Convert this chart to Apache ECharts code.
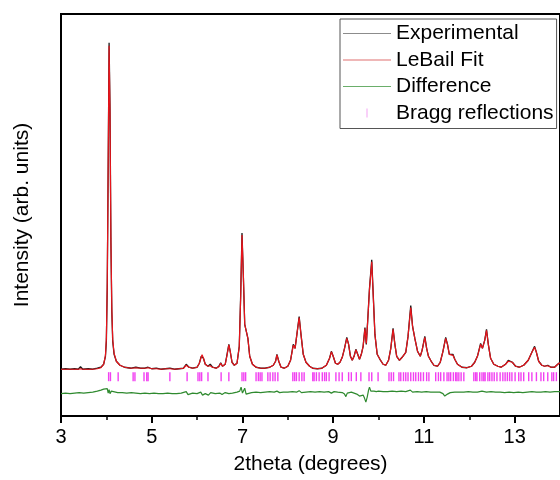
<!DOCTYPE html>
<html>
<head>
<meta charset="utf-8">
<script src="https://cdn.jsdelivr.net/npm/echarts@6/dist/echarts.min.js"></script>
<style>
  html, body { margin: 0; padding: 0; background: #fff; }
  #chart { width: 560px; height: 480px; }
</style>
</head>
<body>
<div id="chart"></div>
<script>
// 2theta grid shared by the experimental pattern and the LeBail fit
const twoTheta = [
  3.00, 3.10, 3.20, 3.30, 3.38, 3.43, 3.48, 3.60, 3.70, 3.80,
  3.88, 3.94, 3.98, 4.00, 4.02, 4.04, 4.06, 4.08, 4.10, 4.12,
  4.14, 4.17, 4.22, 4.30, 4.40, 4.55, 4.65, 4.75, 4.85, 4.92,
  5.00, 5.10, 5.20, 5.30, 5.40, 5.50, 5.60, 5.70, 5.76, 5.82,
  5.90, 6.00, 6.05, 6.09, 6.11, 6.14, 6.18, 6.24, 6.29, 6.34,
  6.42, 6.48, 6.52, 6.56, 6.62, 6.66, 6.70, 6.73, 6.77, 6.82,
  6.88, 6.93, 6.96, 6.99, 7.02, 7.05, 7.09, 7.12, 7.16, 7.22,
  7.30, 7.40, 7.50, 7.60, 7.68, 7.73, 7.76, 7.80, 7.85, 7.92,
  8.00, 8.06, 8.12, 8.16, 8.20, 8.25, 8.29, 8.34, 8.40, 8.48,
  8.55, 8.65, 8.75, 8.85, 8.92, 8.96, 9.00, 9.05, 9.10, 9.15,
  9.20, 9.25, 9.30, 9.34, 9.38, 9.42, 9.46, 9.50, 9.54, 9.58,
  9.62, 9.66, 9.70, 9.73, 9.76, 9.80, 9.85, 9.88, 9.92, 9.97,
  10.03, 10.10, 10.16, 10.22, 10.27, 10.32, 10.36, 10.40, 10.46, 10.52,
  10.56, 10.60, 10.65, 10.71, 10.75, 10.80, 10.86, 10.92, 10.96, 11.02,
  11.06, 11.10, 11.16, 11.22, 11.30, 11.36, 11.42, 11.48, 11.52, 11.56,
  11.60, 11.64, 11.68, 11.74, 11.84, 11.95, 12.05, 12.12, 12.18, 12.25,
  12.29, 12.34, 12.38, 12.42, 12.47, 12.54, 12.63, 12.70, 12.80, 12.86,
  12.90, 12.95, 13.02, 13.10, 13.20, 13.30, 13.38, 13.44, 13.48, 13.53,
  13.60, 13.66, 13.73, 13.80, 13.88, 13.95, 14.00
];

const expIntensity = [
  47, 47.5, 47, 47.5, 47, 49.5, 47, 47.5, 47, 48,
  49, 52, 60, 75, 130, 250, 375, 310, 175, 105,
  75, 62, 55, 51, 49, 48, 49, 48, 48, 49,
  47.5, 48, 47, 47.5, 48, 47, 47.5, 48, 52, 49,
  48, 49, 53, 60, 62, 58, 52, 50, 52, 49,
  48, 50, 53.5, 50, 52, 62, 72, 65, 54, 51,
  53, 70, 120, 184, 140, 92, 94, 78, 60, 52,
  49, 48, 48, 49, 51, 55, 62, 55, 49, 48,
  50, 56, 72, 68, 82, 100, 82, 62, 54, 50,
  48, 47.5, 48, 51, 58, 65, 60, 53, 52, 54,
  59, 68, 79, 72, 60, 56, 60, 67, 62, 57,
  62, 70, 89, 72, 95, 128, 157, 125, 82, 62,
  57, 52, 51, 56, 68, 88, 72, 60, 56, 59,
  57, 64, 80, 111, 90, 78, 65, 60, 66, 80,
  68, 60, 55, 51, 50, 54, 65, 79, 72, 62,
  60, 62, 57, 52, 49, 48.5, 50, 54, 60, 73,
  68, 76, 87, 72, 58, 52, 50, 49, 52, 56,
  57, 54, 50, 49, 51, 56, 64, 70, 64, 55,
  51, 50, 51, 49, 49, 52, 54
];

const fitIntensity = [
  47, 47, 47, 47, 47, 47.5, 47, 47, 47, 47.5,
  48.5, 52, 61, 78, 135, 255, 372, 305, 178, 108,
  77, 63, 55, 51, 49, 48, 48.5, 48, 48, 48.5,
  47.5, 47.5, 47, 47.5, 47.5, 47, 47.5, 48, 51, 49,
  48, 49, 53, 59, 61.5, 58, 52, 50, 50.5, 49,
  48, 49.5, 53, 50, 52, 61, 71.5, 65, 54, 51,
  53, 70, 118, 182, 142, 92, 93, 78, 60, 52,
  49, 48, 48, 49, 51, 55, 61.5, 55, 49, 48,
  50, 56, 71, 68, 82, 99, 82, 62, 54, 50,
  48, 47.5, 48, 51, 58, 64.5, 60, 53, 52, 54,
  59, 68, 78, 72, 60, 56, 60, 66.5, 62, 57,
  62, 70, 88, 73, 95, 127, 155, 124, 82, 62,
  57, 52, 51, 56, 68, 87, 72, 60, 56, 59,
  57, 64, 80, 109, 90, 78, 65, 60, 66, 79,
  68, 60, 55, 51, 50, 54, 65, 78, 72, 62,
  60, 61, 57, 52, 49, 48.5, 50, 54, 60, 72,
  68, 76, 86, 72, 58, 52, 50, 49, 52, 55,
  56.5, 54, 50, 49, 51, 56, 64, 69, 64, 55,
  51, 50, 50.5, 49, 49, 52, 53.5
];

// difference curve (offset below the pattern)
const diffTheta = [
  3.00, 3.10, 3.20, 3.30, 3.40, 3.50, 3.60, 3.70, 3.80, 3.88,
  3.94, 3.98, 4.02, 4.04, 4.06, 4.08, 4.11, 4.15, 4.25, 4.35,
  4.45, 4.55, 4.65, 4.75, 4.85, 4.95, 5.05, 5.15, 5.25, 5.35,
  5.45, 5.55, 5.65, 5.76, 5.80, 5.90, 6.00, 6.08, 6.12, 6.18,
  6.25, 6.30, 6.40, 6.50, 6.55, 6.62, 6.70, 6.78, 6.88, 6.94,
  6.97, 7.00, 7.03, 7.05, 7.08, 7.12, 7.20, 7.30, 7.40, 7.50,
  7.60, 7.70, 7.76, 7.82, 7.90, 8.00, 8.10, 8.20, 8.25, 8.30,
  8.40, 8.50, 8.60, 8.70, 8.80, 8.90, 8.96, 9.02, 9.10, 9.20,
  9.25, 9.28, 9.31, 9.35, 9.40, 9.46, 9.52, 9.58, 9.62, 9.66,
  9.69, 9.72, 9.75, 9.78, 9.80, 9.83, 9.86, 9.90, 9.95, 10.00,
  10.10, 10.20, 10.30, 10.40, 10.50, 10.60, 10.70, 10.75, 10.85, 10.95,
  11.05, 11.15, 11.25, 11.35, 11.42, 11.46, 11.49, 11.52, 11.58, 11.68,
  11.78, 11.88, 11.98, 12.08, 12.18, 12.28, 12.38, 12.48, 12.58, 12.68,
  12.78, 12.88, 12.98, 13.08, 13.18, 13.28, 13.38, 13.48, 13.58, 13.68,
  13.78, 13.88, 14.00
];

const diffIntensity = [
  22.5, 23, 22.5, 23, 23.5, 23, 23.5, 24, 25, 26,
  27, 26, 27.5, 23, 26.5, 22.5, 25, 24, 23.5, 23.5,
  23, 23.5, 23, 22.5, 23, 22.5, 23, 22.5, 22.5, 23,
  22.5, 22.5, 23, 24.5, 21.5, 23, 22.5, 24, 21, 22.5,
  21, 23.5, 22.5, 23, 21.5, 23.5, 22.5, 23, 24, 25,
  29, 23, 21, 28, 22, 24, 23.5, 24, 23.5, 24,
  24.5, 24, 25, 23.5, 24, 24, 24.5, 24, 25.5, 23.5,
  24, 24.5, 24, 24.5, 24, 24.5, 23, 24.5, 24, 23.5,
  22, 19.5, 23, 21.5, 24, 23, 22, 20, 19, 21,
  18, 14, 19, 26, 29, 25, 27, 25, 24.5, 25,
  24.5, 24.5, 25, 24.5, 25, 24.5, 26, 24, 24.5, 24,
  24.5, 24, 24, 24, 22.5, 20, 19, 22, 23.5, 24,
  24, 24, 24.5, 24, 24, 25, 24, 24.5, 24, 24,
  23.5, 24, 23.5, 24, 23.5, 24, 24.5, 24, 24, 24.5,
  24, 24.5, 24.5
];

// Bragg reflection positions (2theta)
const braggPeaks = [
  4.05, 4.09, 4.26, 4.59, 4.63, 4.83, 4.89, 4.92, 5.40, 5.78,
  6.02, 6.06, 6.10, 6.24, 6.53, 6.70, 6.99, 7.03, 7.07, 7.30,
  7.35, 7.39, 7.43, 7.56, 7.61, 7.67, 7.72, 7.78, 8.11, 8.15,
  8.19, 8.25, 8.31, 8.36, 8.55, 8.58, 8.63, 8.69, 8.76, 8.81,
  8.85, 8.91, 9.06, 9.13, 9.20, 9.34, 9.40, 9.51, 9.61, 9.79,
  9.85, 9.99, 10.23, 10.28, 10.33, 10.45, 10.49, 10.55, 10.60, 10.65,
  10.71, 10.77, 10.82, 10.88, 10.93, 10.99, 11.06, 11.11, 11.26, 11.32,
  11.37, 11.44, 11.51, 11.55, 11.59, 11.65, 11.70, 11.73, 11.77, 11.82,
  11.88, 12.10, 12.14, 12.17, 12.23, 12.28, 12.32, 12.35, 12.41, 12.45,
  12.50, 12.55, 12.61, 12.68, 12.74, 12.79, 12.84, 12.89, 12.94, 13.01,
  13.09, 13.14, 13.20, 13.31, 13.38, 13.48, 13.58, 13.64, 13.73, 13.82,
  13.86, 13.92
];
const braggLevel = 39.5;

const majorTicks = [3, 5, 7, 9, 11, 13];
const minorTicks = [4, 6, 8, 10, 12];

const font = "'Liberation Sans', Arial, sans-serif";
const lineIcon = 'path://M0,0H48V1H0Z';

const chart = echarts.init(document.getElementById('chart'), null, { renderer: 'canvas' });

chart.setOption({
  animation: false,
  backgroundColor: '#fff',
  grid: {
    left: 61, top: 14, right: -2, bottom: 62,
    show: true, borderColor: '#000', borderWidth: 2
  },
  legend: {
    orient: 'vertical',
    left: 340, top: 19,
    padding: [4, 3, 5, 3],
    itemWidth: 48, itemHeight: 9, itemGap: 5.5,
    borderColor: '#555', borderWidth: 1,
    backgroundColor: '#fff',
    textStyle: { fontFamily: font, fontSize: 21, color: '#000' },
    data: [
      { name: 'Experimental', icon: lineIcon, itemStyle: { color: '#8c8c8c' } },
      { name: 'LeBail Fit', icon: lineIcon, itemStyle: { color: '#e07070' } },
      { name: 'Difference', icon: lineIcon, itemStyle: { color: '#6aae6a' } },
      { name: 'Bragg reflections', icon: 'path://M0,0H1V9H0Z', itemStyle: { color: '#f08cf0' } }
    ]
  },
  xAxis: [
    {
      type: 'value', min: 3, max: 14, position: 'bottom',
      name: '2theta (degrees)', nameLocation: 'middle', nameGap: 38,
      nameTextStyle: { fontFamily: font, fontSize: 21, color: '#000' },
      axisLine: { show: true, onZero: false, lineStyle: { color: '#000', width: 2 } },
      axisTick: { show: true, inside: false, length: 7, customValues: majorTicks,
        lineStyle: { color: '#000', width: 2 } },
      axisLabel: { customValues: majorTicks, margin: 11, fontFamily: font, fontSize: 20, color: '#000' },
      splitLine: { show: false }
    },
    {
      type: 'value', min: 3, max: 14, position: 'bottom',
      axisLine: { show: false },
      axisTick: { show: true, inside: false, length: 4, customValues: minorTicks,
        lineStyle: { color: '#000', width: 1.5 } },
      axisLabel: { show: false },
      splitLine: { show: false }
    }
  ],
  yAxis: {
    type: 'value', min: 0, max: 404,
    name: 'Intensity (arb. units)', nameLocation: 'middle', nameGap: 28,
    nameTextStyle: { fontFamily: font, fontSize: 21, color: '#000' },
    axisLine: { show: true, lineStyle: { color: '#000', width: 2 } },
    axisTick: { show: false },
    axisLabel: { show: false },
    splitLine: { show: false }
  },
  series: [
    {
      name: 'Experimental', type: 'line', symbol: 'none',
      data: twoTheta.map((t, i) => [t, expIntensity[i]]),
      lineStyle: { color: '#1a1a1a', width: 1.3 },
      itemStyle: { color: '#1a1a1a' }
    },
    {
      name: 'LeBail Fit', type: 'line', symbol: 'none',
      data: twoTheta.map((t, i) => [t, fitIntensity[i]]),
      lineStyle: { color: '#e8141b', width: 1.2 },
      itemStyle: { color: '#e8141b' }
    },
    {
      name: 'Difference', type: 'line', symbol: 'none',
      data: diffTheta.map((t, i) => [t, diffIntensity[i]]),
      lineStyle: { color: '#2f8a2f', width: 1.2 },
      itemStyle: { color: '#2f8a2f' }
    },
    {
      name: 'Bragg reflections', type: 'scatter',
      symbol: 'rect', symbolSize: [1.4, 9],
      data: braggPeaks.map(t => [t, braggLevel]),
      itemStyle: { color: '#ee10ee' }
    }
  ]
});
</script>
</body>
</html>
